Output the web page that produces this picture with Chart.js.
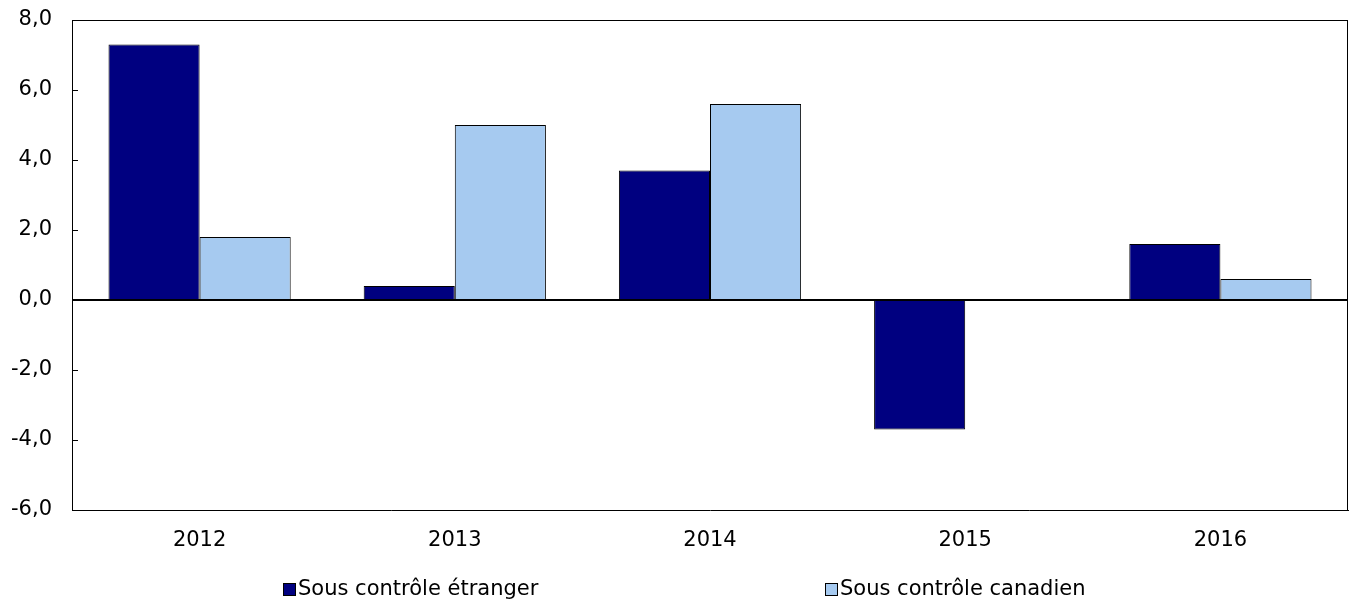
<!DOCTYPE html>
<html><head><meta charset="utf-8">
<script src="https://cdn.jsdelivr.net/npm/chart.js@4.4.1/dist/chart.umd.min.js"></script>
<style>html,body{margin:0;padding:0;background:#fff}#w{width:1349px;height:604px}</style>
</head><body><div id="w"><canvas id="c" width="1349" height="604"></canvas></div>
<script>
const categories = ['2012','2013','2014','2015','2016'];
const foreignValues = [7.3, 0.4, 3.7, -3.7, 1.6];
const canadianValues = [1.8, 5.0, 5.6, 0.0, 0.6];
const seriesLabels = ['Sous contrôle étranger','Sous contrôle canadien'];
const yMin = -6, yMax = 8, yStep = 2;

const FONT = '"DejaVu Sans", Verdana, sans-serif';
const FS = 21;

const framePlugin = {
  id: 'frame',
  afterDatasetsDraw(chart) {
    const {ctx, chartArea: a, scales} = chart;
    ctx.save();
    ctx.strokeStyle = '#000';
    ctx.lineWidth = 1;
    ctx.beginPath();
    ctx.moveTo(a.left, a.top + 0.5); ctx.lineTo(a.right, a.top + 0.5);
    ctx.moveTo(a.right - 0.5, a.top); ctx.lineTo(a.right - 0.5, a.bottom);
    ctx.stroke();
    const y = scales.y;
    ctx.beginPath();
    for (let v = yMin; v <= yMax; v += yStep) {
      const py = Math.round(y.getPixelForValue(v)) + 0.5;
      ctx.moveTo(a.left, py); ctx.lineTo(a.left + 6, py);
    }
    ctx.stroke();
    const z = Math.round(y.getPixelForValue(0));
    ctx.lineWidth = 2;
    ctx.beginPath();
    ctx.moveTo(a.left, z); ctx.lineTo(a.right, z);
    ctx.stroke();
    ctx.font = FS + 'px ' + FONT;
    ctx.textBaseline = 'middle';
    ctx.textAlign = 'left';
    const xs = [283, 825];
    const ly = 590;
    chart.data.datasets.forEach((ds, i) => {
      ctx.fillStyle = ds.backgroundColor;
      ctx.fillRect(xs[i] + 0.5, ly - 6.5, 12, 12);
      ctx.strokeStyle = '#000';
      ctx.lineWidth = 1;
      ctx.strokeRect(xs[i] + 0.5, ly - 6.5, 12, 12);
      ctx.fillStyle = '#000';
      ctx.fillText(ds.label, xs[i] + 15, ly);
    });
    ctx.restore();
  }
};

new Chart(document.getElementById('c'), {
  type: 'bar',
  data: {
    labels: categories,
    datasets: [
      {label: seriesLabels[0], data: foreignValues, backgroundColor: '#000080', borderColor: '#000', borderWidth: 1, borderSkipped: false},
      {label: seriesLabels[1], data: canadianValues, backgroundColor: '#a6caf0', borderColor: '#000', borderWidth: 1, borderSkipped: false}
    ]
  },
  options: {
    responsive: false,
    animation: false,
    layout: {padding: {top: 20, right: 1, left: 0, bottom: 0}},
    plugins: {legend: {display: false}, tooltip: {enabled: false}},
    datasets: {bar: {categoryPercentage: 0.714, barPercentage: 1}},
    scales: {
      x: {
        grid: {display: false},
        border: {display: true, color: '#000', width: 1},
        ticks: {color: '#000', font: {family: FONT, size: FS}, padding: 10},
        afterFit(s) { s.height = 94; s.paddingLeft = 0; s.paddingRight = 0; }
      },
      y: {
        min: yMin, max: yMax,
        grid: {display: false, drawTicks: false},
        border: {display: true, color: '#000', width: 1},
        ticks: {stepSize: yStep, color: '#000', font: {family: FONT, size: FS}, padding: 20,
          callback: v => v.toFixed(1).replace('.', ',')},
        afterFit(s) { s.width = 72; s.paddingTop = 0; s.paddingBottom = 0; }
      }
    }
  },
  plugins: [framePlugin]
});
</script>
</body></html>
